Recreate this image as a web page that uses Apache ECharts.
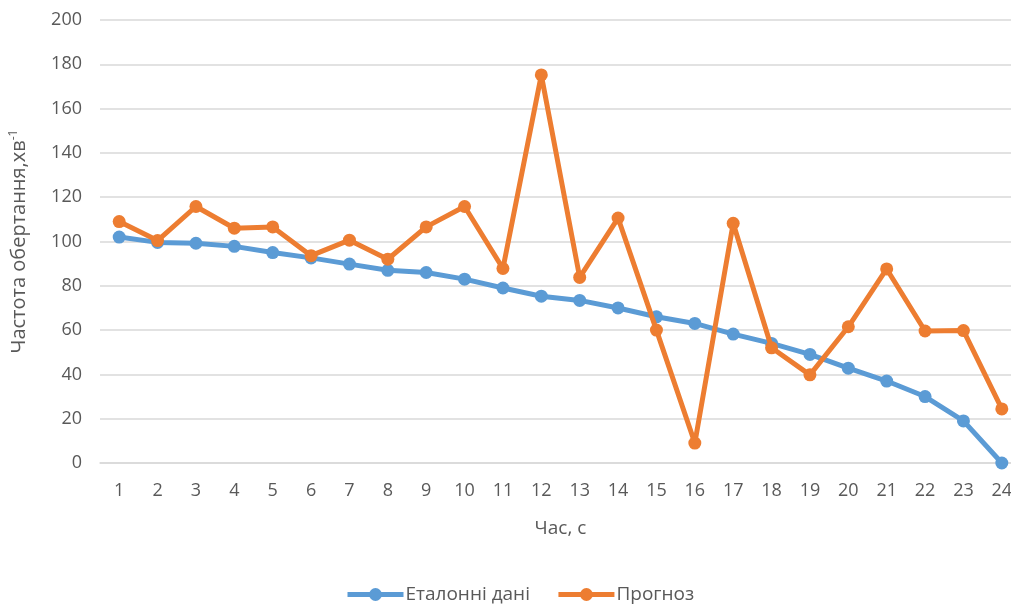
<!DOCTYPE html>
<html>
<head>
<meta charset="utf-8">
<script src="https://cdn.jsdelivr.net/npm/echarts@6/dist/echarts.min.js"></script>
<style>
  html, body { margin: 0; padding: 0; background: #fff; overflow: hidden; }
  /* plot area runs slightly past the right edge of the window */
  #chart { width: 1021px; height: 606px; }
</style>
</head>
<body>
<div id="chart"></div>
<script>
// Time points, seconds
const hours = ['1','2','3','4','5','6','7','8','9','10','11','12','13','14','15','16','17','18','19','20','21','22','23','24'];
// Reference rotation speed
const referenceData = [102, 99.6, 99.2, 97.8, 95, 92.6, 89.8, 87, 86, 83, 79, 75.3, 73.4, 70, 66, 63, 58.2, 54, 49, 42.8, 37, 30, 19, 0];
// Forecast rotation speed
const forecastData = [109, 100.4, 115.8, 106, 106.6, 93.6, 100.6, 92, 106.6, 115.8, 87.8, 175.2, 83.8, 110.6, 60, 9, 108.2, 52, 39.8, 61.5, 87.6, 59.6, 59.8, 24.4];
const seriesNames = ['Еталонні дані', 'Прогноз'];

const font = 'Open Sans, Liberation Sans, sans-serif';
const textColor = '#595959';

const chart = echarts.init(document.getElementById('chart'), null, { renderer: 'canvas' });
chart.setOption({
  animation: false,
  color: ['#5B9BD5', '#ED7D31'],
  grid: { left: 98, right: 0, top: 20, bottom: 143 },
  legend: {
    top: 580,
    left: 340,
    itemWidth: 56,
    itemHeight: 16,
    itemGap: 26,
    lineStyle: { width: 5 },
    textStyle: { color: textColor, fontSize: 19, fontFamily: font, padding: [0, 0, 0, -3] },
    data: seriesNames
  },
  xAxis: {
    type: 'category',
    data: hours,
    boundaryGap: true,
    name: 'Час, с',
    nameLocation: 'middle',
    nameGap: 56,
    nameTextStyle: { color: textColor, fontSize: 19, fontFamily: font },
    axisLine: { lineStyle: { color: '#d9d9d9', width: 1.5 } },
    axisTick: { show: false },
    axisLabel: { color: textColor, fontSize: 18, fontFamily: font, margin: 19 }
  },
  yAxis: {
    type: 'value',
    min: 0,
    max: 200,
    interval: 20,
    name: 'Частота обертання,хв{sup|-1}',
    nameLocation: 'middle',
    nameGap: 70,
    nameTextStyle: {
      color: textColor, fontSize: 20, fontFamily: font,
      rich: { sup: { fontSize: 12, color: textColor, fontFamily: font, verticalAlign: 'top', padding: [0, 0, 10, 0] } }
    },
    axisLine: { show: false },
    axisTick: { show: false },
    axisLabel: { color: textColor, fontSize: 18, fontFamily: font, margin: 18 },
    splitLine: { lineStyle: { color: '#d9d9d9', width: 1.5 } }
  },
  series: [
    {
      name: seriesNames[0],
      type: 'line',
      data: referenceData,
      symbol: 'circle',
      symbolSize: 13,
      lineStyle: { width: 5 },
      z: 2
    },
    {
      name: seriesNames[1],
      type: 'line',
      data: forecastData,
      symbol: 'circle',
      symbolSize: 13,
      lineStyle: { width: 5 },
      z: 3
    }
  ]
});
</script>
</body>
</html>
